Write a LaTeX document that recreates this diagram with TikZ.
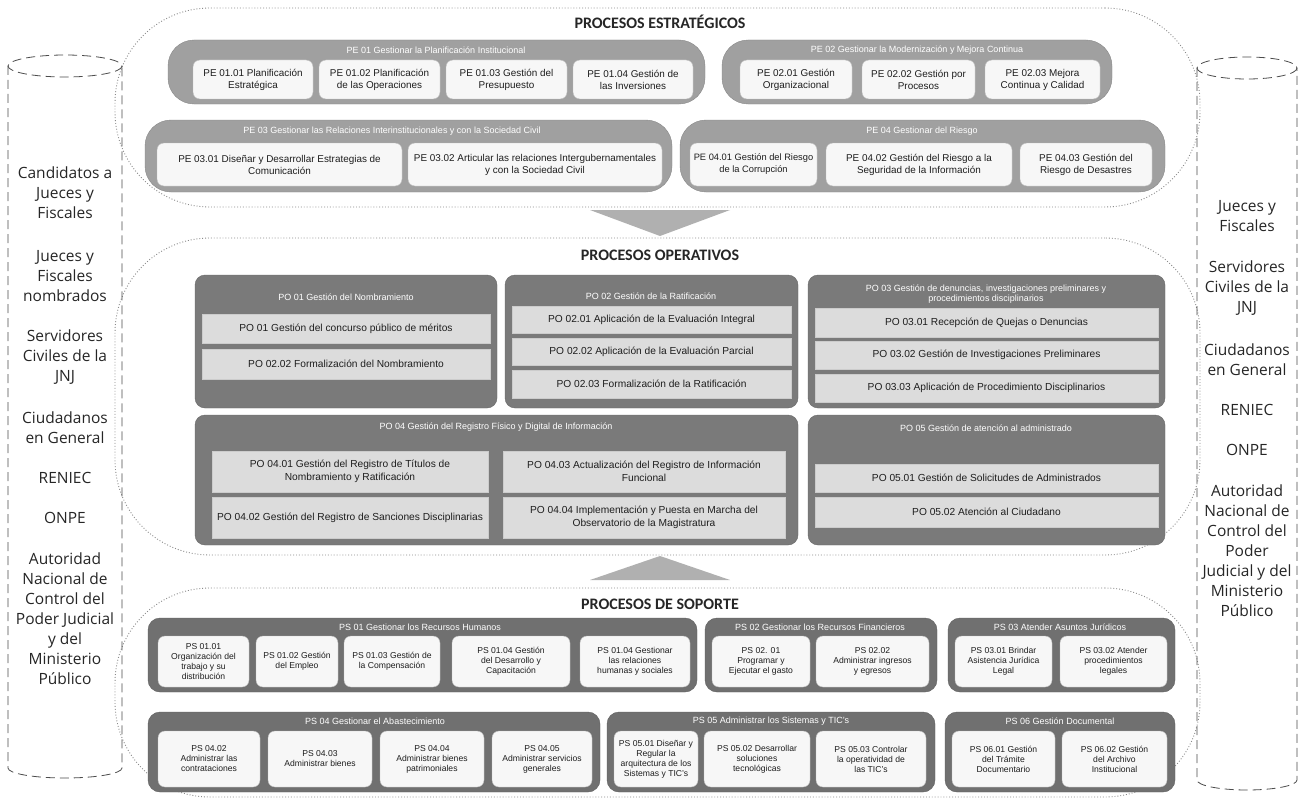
\documentclass[tikz,border=0pt]{standalone}
\usepackage{fontspec}
\setmainfont{Liberation Sans}
\newfontfamily\cylfont{Open Sans}
\newfontfamily\titfont{Carlito}
\definecolor{grpS}{HTML}{A0A0A0}
\definecolor{grpO}{HTML}{7A7A7A}
\definecolor{grpP}{HTML}{707070}
\definecolor{childW}{HTML}{F7F7F7}
\definecolor{rowG}{HTML}{DCDCDC}
\definecolor{txt}{HTML}{1E1E1E}
\definecolor{regline}{HTML}{8A8A8A}
\newcommand\bx[7]{\node[#6,minimum width={(#4)-(#2)},minimum height={(#5)-(#3)}] (#1) at ({((#2)+(#4))/2},{((#3)+(#5))/2}) {#7};}
\begin{document}
\begin{tikzpicture}[x=1pt,y=-1pt,
  region/.style={draw=regline, dotted, line width=0.9pt, rounded corners=95pt, inner sep=0pt},
  sgrp/.style={fill=grpS, draw=grpS!85!black, line width=0.4pt, rounded corners=26pt, inner sep=0pt},
  schild/.style={fill=childW, draw=gray!50, rounded corners=7pt, align=center, font=\fontsize{9.9}{12}\selectfont, text=txt, inner sep=0pt},
  hdr/.style={text=white, font=\fontsize{9}{10.5}\selectfont, align=center, inner sep=0pt},
  ogrp/.style={fill=grpO, draw=grpO!85!black, rounded corners=10pt, inner sep=0pt},
  orow/.style={fill=rowG, draw=white!60!gray, align=center, font=\fontsize{10.2}{12.5}\selectfont, text=txt, inner sep=0pt},
  pgrp/.style={fill=grpP, draw=grpP!85!black, rounded corners=12pt, inner sep=0pt},
  pchild/.style={fill=childW, draw=gray!50, rounded corners=7pt, align=center, font=\fontsize{8.6}{10}\selectfont, text=txt, inner sep=0pt},
  ttl/.style={font=\titfont\bfseries\fontsize{16}{18}\selectfont, text=black!85},
  cyltxt/.style={font=\cylfont\fontsize{15.5}{20}\selectfont, align=center, text=black!85, inner sep=0pt},
  chev/.style={fill=gray!62, draw=none},
  cyl/.style={draw=black!70, dash pattern=on 9pt off 5pt, line width=0.8pt}]
\useasboundingbox (0,0) rectangle (1302,800);
\fill[white] (0,0) rectangle (1302,800);

% ---------- regions ----------
\bx{regE}{115}{8}{1200}{207}{region}{}
\bx{regO}{115}{238}{1200}{555}{region}{}
\bx{regP}{115}{588}{1200}{797}{region}{}

% ---------- cylinders ----------
\draw[cyl] (65,66) ellipse [x radius=57, y radius=11];
\draw[cyl] (8,66) -- (8,768) arc[start angle=180, end angle=0, x radius=57, y radius=10] -- (122,66);
\draw[cyl] (1247,68) ellipse [x radius=50, y radius=11];
\draw[cyl] (1197,68) -- (1197,780) arc[start angle=180, end angle=0, x radius=50, y radius=10] -- (1297,68);

\node[cyltxt] (l1) at (65,193) {Candidatos a\\Jueces y\\Fiscales};
\node[cyltxt] (l2) at (65,276) {Jueces y\\Fiscales\\nombrados};
\node[cyltxt] (l3) at (65,357) {Servidores\\Civiles de la\\JNJ};
\node[cyltxt] (l4) at (65,428) {Ciudadanos\\en General};
\node[cyltxt] (l5) at (65,478) {RENIEC};
\node[cyltxt] (l6) at (65,518) {ONPE};
\node[cyltxt] (l7) at (65,619) {Autoridad\\Nacional de\\Control del\\Poder Judicial\\y del\\Ministerio\\Público};

\node[cyltxt] (r1) at (1247,216) {Jueces y\\Fiscales};
\node[cyltxt] (r2) at (1247,288) {Servidores\\Civiles de la\\JNJ};
\node[cyltxt] (r3) at (1247,360) {Ciudadanos\\en General};
\node[cyltxt] (r4) at (1247,410) {RENIEC};
\node[cyltxt] (r5) at (1247,450) {ONPE};
\node[cyltxt] (r6) at (1247,551) {Autoridad\\Nacional de\\Control del\\Poder\\Judicial y del\\Ministerio\\Público};

% ---------- strategic ----------
\node[ttl] (tE) at (660,22) {PROCESOS ESTRATÉGICOS};
\bx{pe1}{168}{40}{705}{104}{sgrp}{}
\node[hdr] (pe1h) at (436,50) {PE 01 Gestionar la Planificación Institucional};
\bx{pe11}{193}{60}{313}{99}{schild}{PE 01.01 Planificación\\Estratégica}
\bx{pe12}{319}{60}{440}{99}{schild}{PE 01.02 Planificación\\de las Operaciones}
\bx{pe13}{446}{60}{567}{99}{schild}{PE 01.03 Gestión del\\Presupuesto}
\bx{pe14}{573}{60}{693}{99}{schild}{PE 01.04 Gestión de\\las Inversiones}

\bx{pe2}{722}{40}{1112}{104}{sgrp}{}
\node[hdr] (pe2h) at (917,50) {PE 02 Gestionar la Modernización y Mejora Continua};
\bx{pe21}{740}{60}{852}{99}{schild}{PE 02.01 Gestión\\Organizacional}
\bx{pe22}{862}{60}{975}{99}{schild}{PE 02.02 Gestión por\\Procesos}
\bx{pe23}{985}{60}{1100}{99}{schild}{PE 02.03 Mejora\\Continua y Calidad}

\bx{pe3}{145}{120}{672}{192}{sgrp}{}
\node[hdr] (pe3h) at (392,131) {PE 03 Gestionar las Relaciones Interinstitucionales y con la Sociedad Civil};
\bx{pe31}{157}{143}{402}{186}{schild}{PE 03.01 Diseñar y Desarrollar Estrategias de\\Comunicación}
\bx{pe32}{408}{143}{662}{186}{schild}{PE 03.02 Articular las relaciones Intergubernamentales\\y con la Sociedad Civil}

\bx{pe4}{680}{120}{1165}{192}{sgrp}{}
\node[hdr] (pe4h) at (922,131) {PE 04 Gestionar del Riesgo};
\bx{pe41}{690}{143}{817}{186}{schild,font=\fontsize{9.3}{12}\selectfont}{PE 04.01 Gestión del Riesgo\\de la Corrupción}
\bx{pe42}{826}{143}{1012}{186}{schild}{PE 04.02 Gestión del Riesgo a la\\Seguridad de la Información}
\bx{pe43}{1020}{143}{1152}{186}{schild}{PE 04.03 Gestión del\\Riesgo de Desastres}

\fill[chev] (590,210) -- (730,210) -- (660,236) -- cycle;

% ---------- operative ----------
\node[ttl] (tO) at (660,255) {PROCESOS OPERATIVOS};
\bx{po1}{195}{275}{497}{408}{ogrp}{}
\node[hdr] (po1h) at (346,297) {PO 01 Gestión del Nombramiento};
\bx{po11}{202}{314}{490}{343}{orow}{PO 01 Gestión del concurso público de méritos}
\bx{po12}{202}{349}{490}{379}{orow}{PO 02.02 Formalización del Nombramiento}

\bx{po2}{505}{275}{798}{408}{ogrp}{}
\node[hdr] (po2h) at (651,296) {PO 02 Gestión de la Ratificación};
\bx{po21}{512}{306}{791}{333}{orow}{PO 02.01 Aplicación de la Evaluación Integral}
\bx{po22}{512}{338}{791}{365}{orow}{PO 02.02 Aplicación de la Evaluación Parcial}
\bx{po23}{512}{370}{791}{398}{orow}{PO 02.03 Formalización de la Ratificación}

\bx{po3}{808}{275}{1165}{408}{ogrp}{}
\node[hdr] (po3h) at (986,294) {PO 03 Gestión de denuncias, investigaciones preliminares y\\procedimientos disciplinarios};
\bx{po31}{815}{308}{1158}{337}{orow}{PO 03.01 Recepción de Quejas o Denuncias}
\bx{po32}{815}{341}{1158}{369}{orow}{PO 03.02 Gestión de Investigaciones Preliminares}
\bx{po33}{815}{374}{1158}{402}{orow}{PO 03.03 Aplicación de Procedimiento Disciplinarios}

\bx{po4}{195}{415}{798}{545}{ogrp}{}
\node[hdr] (po4h) at (496,427) {PO 04 Gestión del Registro Físico y Digital de Información};
\bx{po41}{212}{451}{488}{492}{orow}{PO 04.01 Gestión del Registro de Títulos de\\Nombramiento y Ratificación}
\bx{po43}{503}{451}{785}{492}{orow}{PO 04.03 Actualización del Registro de Información\\Funcional}
\bx{po42}{212}{497}{488}{538}{orow}{PO 04.02 Gestión del Registro de Sanciones Disciplinarias}
\bx{po44}{503}{497}{785}{538}{orow}{PO 04.04 Implementación y Puesta en Marcha del\\Observatorio de la Magistratura}

\bx{po5}{808}{415}{1165}{545}{ogrp}{}
\node[hdr] (po5h) at (986,428) {PO 05 Gestión de atención al administrado};
\bx{po51}{815}{464}{1158}{492}{orow}{PO 05.01 Gestión de Solicitudes de Administrados}
\bx{po52}{815}{497}{1158}{527}{orow}{PO 05.02 Atención al Ciudadano}

\fill[chev] (590,580) -- (730,580) -- (660,556) -- cycle;

% ---------- support ----------
\node[ttl] (tP) at (660,604) {PROCESOS DE SOPORTE};
\bx{ps1}{148}{618}{697}{692}{pgrp}{}
\node[hdr] (ps1h) at (420,627) {PS 01 Gestionar los Recursos Humanos};
\bx{ps11}{158}{636}{249}{687}{pchild}{PS 01.01\\Organización del\\trabajo y su\\distribución}
\bx{ps12}{256}{636}{338}{687}{pchild}{PS 01.02 Gestión\\del Empleo}
\bx{ps13}{344}{636}{440}{687}{pchild}{PS 01.03 Gestión de\\la Compensación}
\bx{ps14}{452}{636}{570}{687}{pchild}{PS 01.04 Gestión\\del Desarrollo y\\Capacitación}
\bx{ps15}{580}{636}{690}{687}{pchild}{PS 01.04 Gestionar\\las relaciones\\humanas y sociales}

\bx{ps2}{705}{618}{937}{692}{pgrp}{}
\node[hdr] (ps2h) at (820,627) {PS 02 Gestionar los Recursos Financieros};
\bx{ps21}{712}{636}{810}{687}{pchild}{PS 02. 01\\Programar y\\Ejecutar el gasto}
\bx{ps22}{816}{636}{929}{687}{pchild}{PS 02.02\\Administrar ingresos\\y egresos}

\bx{ps3}{948}{618}{1175}{692}{pgrp}{}
\node[hdr] (ps3h) at (1060,627) {PS 03 Atender Asuntos Jurídicos};
\bx{ps31}{955}{636}{1052}{687}{pchild}{PS 03.01 Brindar\\Asistencia Jurídica\\Legal}
\bx{ps32}{1060}{636}{1167}{687}{pchild}{PS 03.02 Atender\\procedimientos\\legales}

\bx{ps4}{148}{712}{600}{792}{pgrp}{}
\node[hdr] (ps4h) at (375,721) {PS 04 Gestionar el Abastecimiento};
\bx{ps41}{158}{731}{260}{787}{pchild}{PS 04.02\\Administrar las\\contrataciones}
\bx{ps42}{268}{731}{372}{787}{pchild}{PS 04.03\\Administrar bienes}
\bx{ps43}{380}{731}{484}{787}{pchild}{PS 04.04\\Administrar bienes\\patrimoniales}
\bx{ps44}{492}{731}{592}{787}{pchild}{PS 04.05\\Administrar servicios\\generales}

\bx{ps5}{607}{712}{935}{792}{pgrp}{}
\node[hdr] (ps5h) at (771,721) {PS 05 Administrar los Sistemas y TIC's};
\bx{ps51}{614}{731}{698}{787}{pchild}{PS 05.01 Diseñar y\\Regular la\\arquitectura de los\\Sistemas y TIC's}
\bx{ps52}{704}{731}{810}{787}{pchild}{PS 05.02 Desarrollar\\soluciones\\tecnológicas}
\bx{ps53}{816}{731}{926}{787}{pchild}{PS 05.03 Controlar\\la operatividad de\\las TIC's}

\bx{ps6}{945}{712}{1175}{792}{pgrp}{}
\node[hdr] (ps6h) at (1060,721) {PS 06 Gestión Documental};
\bx{ps61}{952}{731}{1055}{787}{pchild}{PS 06.01 Gestión\\del Trámite\\Documentario}
\bx{ps62}{1062}{731}{1167}{787}{pchild}{PS 06.02 Gestión\\del Archivo\\Institucional}
\end{tikzpicture}
\end{document}
